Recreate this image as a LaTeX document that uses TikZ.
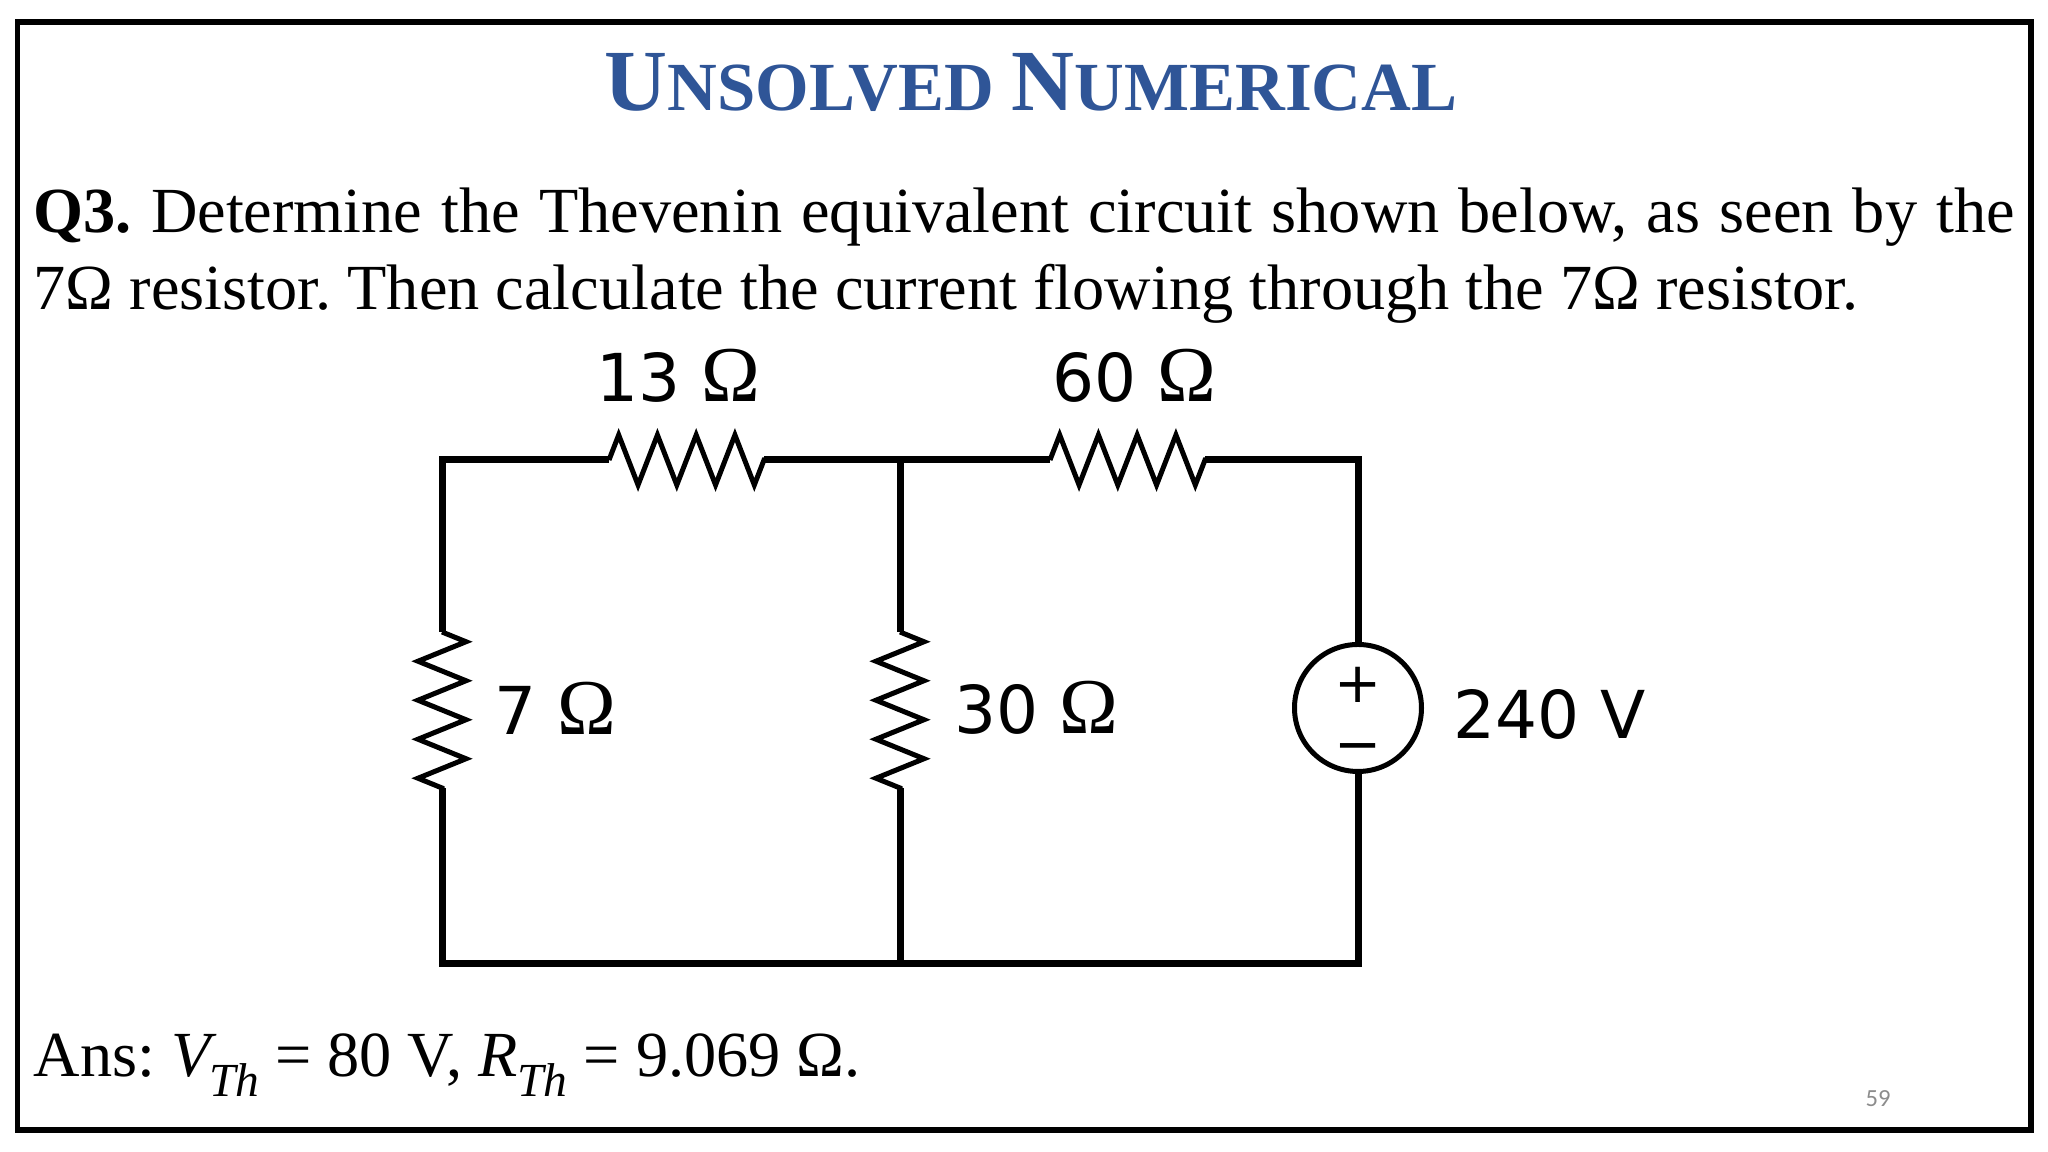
\documentclass[tikz,border=0pt]{standalone}
\usepackage{fontspec}
\setmainfont{Liberation Serif}
\newfontfamily\circfont{DejaVu Sans}
\newfontfamily\pagefont{Carlito}
\usetikzlibrary{positioning,decorations.pathmorphing}
\definecolor{titleblue}{HTML}{2F5597}
\newcommand{\ohm}{{\fontspec{Liberation Serif}\fontsize{22.5}{22.5}\selectfont Ω}}
\newcommand{\thsub}[2]{\textit{#1}\kern#2\raisebox{-.3em}{\fontsize{13.5}{13.5}\selectfont\textit{Th}}}
\newcommand{\capletter}[1]{{\fontsize{24.8}{24.8}\selectfont #1}}
\tikzset{
  wire/.style={line width=.07cm},
  hres/.style={line width=.05cm, decorate, decoration={zigzag, segment length=.3875cm, amplitude=.25cm}},
  vres/.style={line width=.05cm, decorate, decoration={zigzag, segment length=.39cm, amplitude=.24cm}},
  label/.style={font=\circfont\fontsize{18.8}{18.8}\selectfont, inner sep=0pt},
  signlabel/.style={font=\circfont\fontsize{16}{16}\selectfont, inner sep=0pt},
  textline/.style={font=\fontsize{18.3}{18.3}\selectfont\frenchspacing, inner sep=0pt, anchor=base west},
  source/.style={circle, draw, line width=.05cm, minimum size=1.27cm, inner sep=0pt, outer sep=0pt},
}
\begin{document}
\begin{tikzpicture}
    \useasboundingbox (0,0) rectangle (20.48,11.52);
    \node[draw, line width=.06cm, minimum width=20.13cm, minimum height=11.08cm, inner sep=0pt] (frame) at (10.24,5.76) {};
    % text
    \node[inner sep=0pt, anchor=base, text=titleblue, font=\bfseries\fontsize{19.6}{19.6}\selectfont] (title) at (10.31,10.41) {\capletter{U}NSOLVED \capletter{N}UMERICAL};
    \node[textline] (q1) at (.33,9.19) {\hbox to 19.81cm{\textbf{Q3.} Determine the Thevenin equivalent circuit shown below, as seen by the}};
    \node[textline, below=.77 of q1.base west, anchor=base west] (q2) {7Ω resistor. Then calculate the current flowing through the 7Ω resistor.};
    \node[textline] (ans) at (.33,.75) {Ans: \thsub{V}{-.12em} = 80 V, \thsub{R}{0em} = 9.069 Ω.};
    \node[inner sep=0pt, text=black!45, font=\pagefont\fontsize{7}{7}\selectfont] (page) at (18.78,.53) {59};
    % circuit
    \coordinate (tl) at (4.42,6.92);
    \coordinate[right=4.58 of tl] (tm);
    \coordinate[right=4.58 of tm] (tr);
    \coordinate[below=5.04 of tl] (bl);
    \coordinate[below=5.04 of tm] (bm);
    \coordinate[below=5.04 of tr] (br);
    \coordinate[right=1.67 of tl] (r13a);
    \coordinate[right=1.55 of r13a] (r13b);
    \coordinate[right=1.50 of tm] (r60a);
    \coordinate[right=1.55 of r60a] (r60b);
    \coordinate[below=1.72 of tl] (r7a);
    \coordinate[below=1.56 of r7a] (r7b);
    \coordinate[below=1.72 of tm] (r30a);
    \coordinate[below=1.56 of r30a] (r30b);
    \node[source, below=2.48 of tr, anchor=center] (src) {};
    \node[signlabel, above=.23 of src.center, anchor=center] (plus) {+};
    \node[signlabel, below=.46 of src.center, anchor=center] (minus) {−};
    \draw[wire] (r7a) -- (tl) -- (r13a);
    \draw[wire] (r13b) -- (tm) -- (r60a);
    \draw[wire] (r60b) -- (tr) -- (src);
    \draw[wire] (src) -- (br) -- (bl) -- (r7b);
    \draw[wire] (tm) -- (r30a);
    \draw[wire] (r30b) -- (bm);
    \draw[hres] (r13a) -- (r13b);
    \draw[hres] (r60a) -- (r60b);
    \draw[vres] (r7a) -- (r7b);
    \draw[vres] (r30a) -- (r30b);
    \node[label, above=.84 of r13a, anchor=center, xshift=.69cm] (l13) {13 \ohm};
    \node[label, above=.84 of r60a, anchor=center, xshift=.84cm] (l60) {60 \ohm};
    \node[label, right=1.13 of r7a, anchor=center, yshift=-.76cm] (l7) {7 \ohm};
    \node[label, right=1.36 of r30a, anchor=center, yshift=-.76cm] (l30) {30 \ohm};
    \node[label, right=1.92 of src.center, anchor=center, yshift=-.06cm] (l240) {240 V};
\end{tikzpicture}
\end{document}
